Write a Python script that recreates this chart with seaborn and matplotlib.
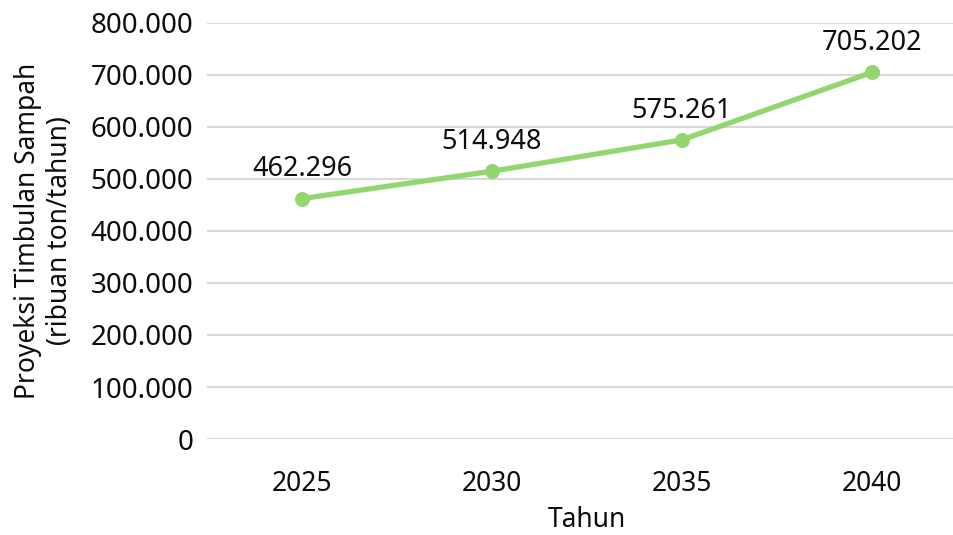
import matplotlib
matplotlib.use('Agg')
import matplotlib.pyplot as plt
import seaborn as sns
import pandas as pd

# Data
years = ['2025', '2030', '2035', '2040']
timbulan = [462296, 514948, 575261, 705202]
y_ticks = [0, 100000, 200000, 300000, 400000, 500000, 600000, 700000, 800000]

GREEN = '#92d66f'
GRID = '#d9d9d9'
TXT = '#0d0d0d'


def fmt_id(v):
    # Indonesian thousands separator
    return f"{v:,.0f}".replace(',', '.')


df = pd.DataFrame({'Tahun': years, 'Timbulan': timbulan})

sns.set_theme(style='white')
plt.rcParams['font.family'] = ['Noto Sans', 'DejaVu Sans']

fig = plt.figure(figsize=(9.54, 5.35), dpi=100)
# axes runs slightly past the right edge, like the source
ax = fig.add_axes([207 / 954, 1 - 439 / 535, 760 / 954, 416 / 535])

sns.lineplot(data=df, x='Tahun', y='Timbulan', ax=ax, color=GREEN,
             linewidth=3.8, marker='o', markersize=10,
             markeredgecolor=GREEN, markerfacecolor=GREEN, sort=False)

for i, v in enumerate(timbulan):
    ax.annotate(fmt_id(v), (i, v), xytext=(0, 16), textcoords='offset points',
                ha='center', va='baseline', fontsize=19.5, color=TXT)

ax.set_xlim(-0.5, 3.5)
ax.set_ylim(0, 800000)
ax.set_yticks(y_ticks)
ax.set_yticklabels([fmt_id(t) for t in y_ticks], fontsize=20, color=TXT)
ax.set_xticks(range(len(years)))
ax.set_xticklabels(years, fontsize=19, color=TXT)
ax.tick_params(axis='both', length=0)
ax.tick_params(axis='y', pad=10)
ax.tick_params(axis='x', pad=22)

ax.grid(axis='y', color=GRID, linewidth=1.5)
ax.set_axisbelow(True)
for s in ax.spines.values():
    s.set_visible(False)

ax.set_xlabel('Tahun', fontsize=19, color=TXT, labelpad=6)
ax.set_ylabel('')
fig.text(44 / 954, 1 - 231 / 535, 'Proyeksi Timbulan Sampah\n(ribuan ton/tahun)',
         rotation=90, ha='center', va='center', fontsize=19, color=TXT,
         linespacing=1.15)

fig.savefig('out.png', dpi=100)
plt.close(fig)
